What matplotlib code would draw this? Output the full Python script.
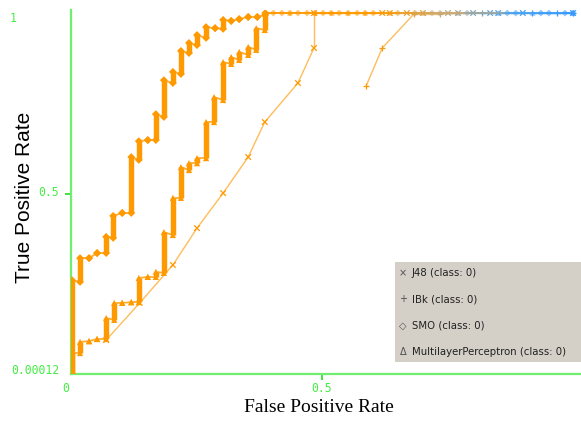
import matplotlib
matplotlib.use('Agg')
import matplotlib.pyplot as plt
from matplotlib.colors import LinearSegmentedColormap
from matplotlib.collections import LineCollection
from matplotlib.patches import Rectangle

W, H = 581, 421

# SMO: steps (fpr, tpr at bottom / top of each vertical run)
smo_fpr = [0.002, 0.018, 0.036, 0.052, 0.070, 0.084, 0.102, 0.120, 0.135, 0.153, 0.169, 0.185,
           0.203, 0.219, 0.235, 0.251, 0.269, 0.287, 0.303, 0.319, 0.335, 0.353, 0.371, 0.387]
smo_lo = [0.0, 0.255, 0.321, 0.335, 0.335, 0.377, 0.446, 0.446, 0.593, 0.648, 0.648, 0.712,
          0.806, 0.831, 0.889, 0.911, 0.931, 0.958, 0.956, 0.978, 0.983, 0.989, 0.989, 0.995]
smo_hi = [0.26, 0.321, 0.321, 0.335, 0.380, 0.438, 0.446, 0.601, 0.645, 0.648, 0.720, 0.814,
          0.837, 0.895, 0.917, 0.939, 0.961, 0.958, 0.981, 0.978, 0.983, 0.989, 0.989, 1.0]
smo_top = [0.403, 0.420, 0.436, 0.452, 0.470, 0.486, 0.502, 0.518, 0.534, 0.552, 0.570, 0.586,
           0.602, 0.651, 0.685, 0.719, 0.735, 0.789, 0.869, 0.886, 0.936, 0.952, 0.984, 1.0]

# MultilayerPerceptron
mlp_fpr = [0.002, 0.018, 0.036, 0.052, 0.070, 0.086, 0.102, 0.120, 0.135, 0.153, 0.169, 0.185,
           0.203, 0.219, 0.235, 0.251, 0.269, 0.285, 0.303, 0.319, 0.335, 0.353, 0.369, 0.386]
mlp_lo = [0.0, 0.058, 0.091, 0.097, 0.097, 0.150, 0.197, 0.199, 0.199, 0.269, 0.269, 0.280,
          0.385, 0.488, 0.565, 0.584, 0.598, 0.698, 0.759, 0.859, 0.870, 0.884, 0.898, 0.953]
mlp_hi = [0.058, 0.089, 0.091, 0.097, 0.155, 0.197, 0.197, 0.199, 0.266, 0.269, 0.283, 0.393,
          0.488, 0.573, 0.584, 0.598, 0.698, 0.767, 0.864, 0.878, 0.892, 0.906, 0.958, 1.0]
mlp_top = [0.436, 0.486, 0.520, 0.552, 0.586, 0.636, 0.702, 0.770, 0.852, 0.920, 1.0]

# J48
j48_fpr = [0.070, 0.137, 0.203, 0.251, 0.303, 0.353, 0.386, 0.452, 0.484, 0.484,
           0.620, 0.635, 0.669, 0.701, 0.751, 0.771, 0.801, 0.835, 0.851, 0.900, 1.0]
j48_tpr = [0.094, 0.197, 0.302, 0.404, 0.501, 0.601, 0.698, 0.806, 0.903, 1.0,
           1.0, 1.0, 1.0, 1.0, 1.0, 1.0, 1.0, 1.0, 1.0, 1.0, 1.0]

# IBk
ibk_fpr = [0.588, 0.620, 0.683, 0.735, 0.819, 0.918, 0.968, 1.0]
ibk_tpr = [0.798, 0.903, 0.997, 0.997, 1.0, 1.0, 1.0, 1.0]

legend_labels = ['J48 (class: 0)', 'IBk (class: 0)', 'SMO (class: 0)',
                 'MultilayerPerceptron (class: 0)']
legend_symbols = ['\u00d7', '+', '\u25c7', '\u0394']

weka = LinearSegmentedColormap.from_list(
    'weka', [(0, '#ff9900'), (0.6, '#ff9900'), (0.74, '#c8aa78'), (0.86, '#4aa3f0'), (1, '#3399ff')])


def colored_line(ax, xs, ys, lw, alpha, z):
    segs = [[(xs[i], ys[i]), (xs[i + 1], ys[i + 1])] for i in range(len(xs) - 1)]
    cols = [weka(xs[i]) for i in range(len(xs) - 1)]
    ax.add_collection(LineCollection(segs, colors=cols, linewidths=lw, alpha=alpha, zorder=z))


def draw_steps(ax, fpr, lo, hi, top, marker, ms, z):
    f = list(fpr) + list(top)
    a = list(lo) + [1.0] * len(top)
    b = list(hi) + [1.0] * len(top)
    xs, ys = [], []
    for fi, ai, bi in zip(f, a, b):
        xs += [fi, fi]
        ys += [ai, bi]
    colored_line(ax, xs, ys, 1.3, 0.8, z)
    for fi, ai, bi in zip(fpr, lo, hi):
        if bi - ai > 0.004:
            ax.plot([fi, fi], [ai, bi], color=weka(fi), lw=3.9, solid_capstyle='butt', zorder=z + 1)
    ax.scatter(fpr, lo, marker=marker, s=ms, c=[weka(v) for v in fpr], linewidths=0, zorder=z + 2)
    ax.scatter(fpr, hi, marker=marker, s=ms, c=[weka(v) for v in fpr], linewidths=0, zorder=z + 2)
    ax.scatter(top, [1.0] * len(top), marker=marker, s=ms * 0.8, c=[weka(v) for v in top],
               linewidths=0, alpha=0.55, zorder=z + 2)


fig = plt.figure(figsize=(W / 100, H / 100), dpi=100)
ax = fig.add_axes([71 / W, (H - 374) / H, (580 - 71) / W, (374 - 10) / H])
ax.set_xlim(0, 509 / 502)
ax.set_ylim(0, 364 / 361)

colored_line(ax, j48_fpr, j48_tpr, 1.0, 0.65, 2)
ax.scatter(j48_fpr, j48_tpr, marker='x', s=16, c=[weka(v) for v in j48_fpr], linewidths=0.9, zorder=3)
colored_line(ax, ibk_fpr, ibk_tpr, 1.0, 0.65, 2)
ax.scatter(ibk_fpr, ibk_tpr, marker='+', s=22, c=[weka(v) for v in ibk_fpr], linewidths=0.9, zorder=3)

draw_steps(ax, mlp_fpr, mlp_lo, mlp_hi, mlp_top, '^', 20, 4)
draw_steps(ax, smo_fpr, smo_lo, smo_hi, smo_top, 'D', 16, 7)

green = '#70ee70'
for s in ['top', 'right']:
    ax.spines[s].set_visible(False)
for s in ['left', 'bottom']:
    ax.spines[s].set_color(green)
    ax.spines[s].set_linewidth(1.6)
ax.set_xticks([0.5])
ax.set_yticks([0.5])
ax.tick_params(colors='#22dd22', length=4, width=1.2, labelleft=False, labelbottom=False)
ax.patch.set_alpha(0)

tick_font = dict(family='DejaVu Sans Mono', size=8.3, color='#44ee44')
fig.text(10 / W, 1 - 19 / H, '1', ha='left', va='center', **tick_font)
fig.text(59 / W, 1 - 193 / H, '0.5', ha='right', va='center', **tick_font)
fig.text(59 / W, 1 - 371 / H, '0.00012', ha='right', va='center', **tick_font)
fig.text(66 / W, 1 - 389 / H, '0', ha='center', va='center', **tick_font)
fig.text(322 / W, 1 - 388 / H, '0.5', ha='center', va='center', **tick_font)

fig.text(25 / W, 1 - 197 / H, 'True Positive Rate', rotation=90, ha='center', va='center',
         family='Liberation Sans', size=15)
fig.text(319 / W, 1 - 408 / H, 'False Positive Rate', ha='center', va='center',
         family='Liberation Serif', size=14)

fig.patches.append(Rectangle((395 / W, 1 - 362 / H), (581 - 395) / W, 100 / H,
                             transform=fig.transFigure, facecolor='#d4d0c8', edgecolor='none', zorder=10))
for i, (sym, lab) in enumerate(zip(legend_symbols, legend_labels)):
    yy = 1 - (273 + i * 26.3) / H
    fig.text(403 / W, yy, sym, ha='center', va='center', size=7, color='#505050', zorder=11)
    fig.text(412 / W, yy, lab, ha='left', va='center', size=7.3, color='#202020',
             family='DejaVu Sans', zorder=11)

fig.savefig('out.png', dpi=100)
